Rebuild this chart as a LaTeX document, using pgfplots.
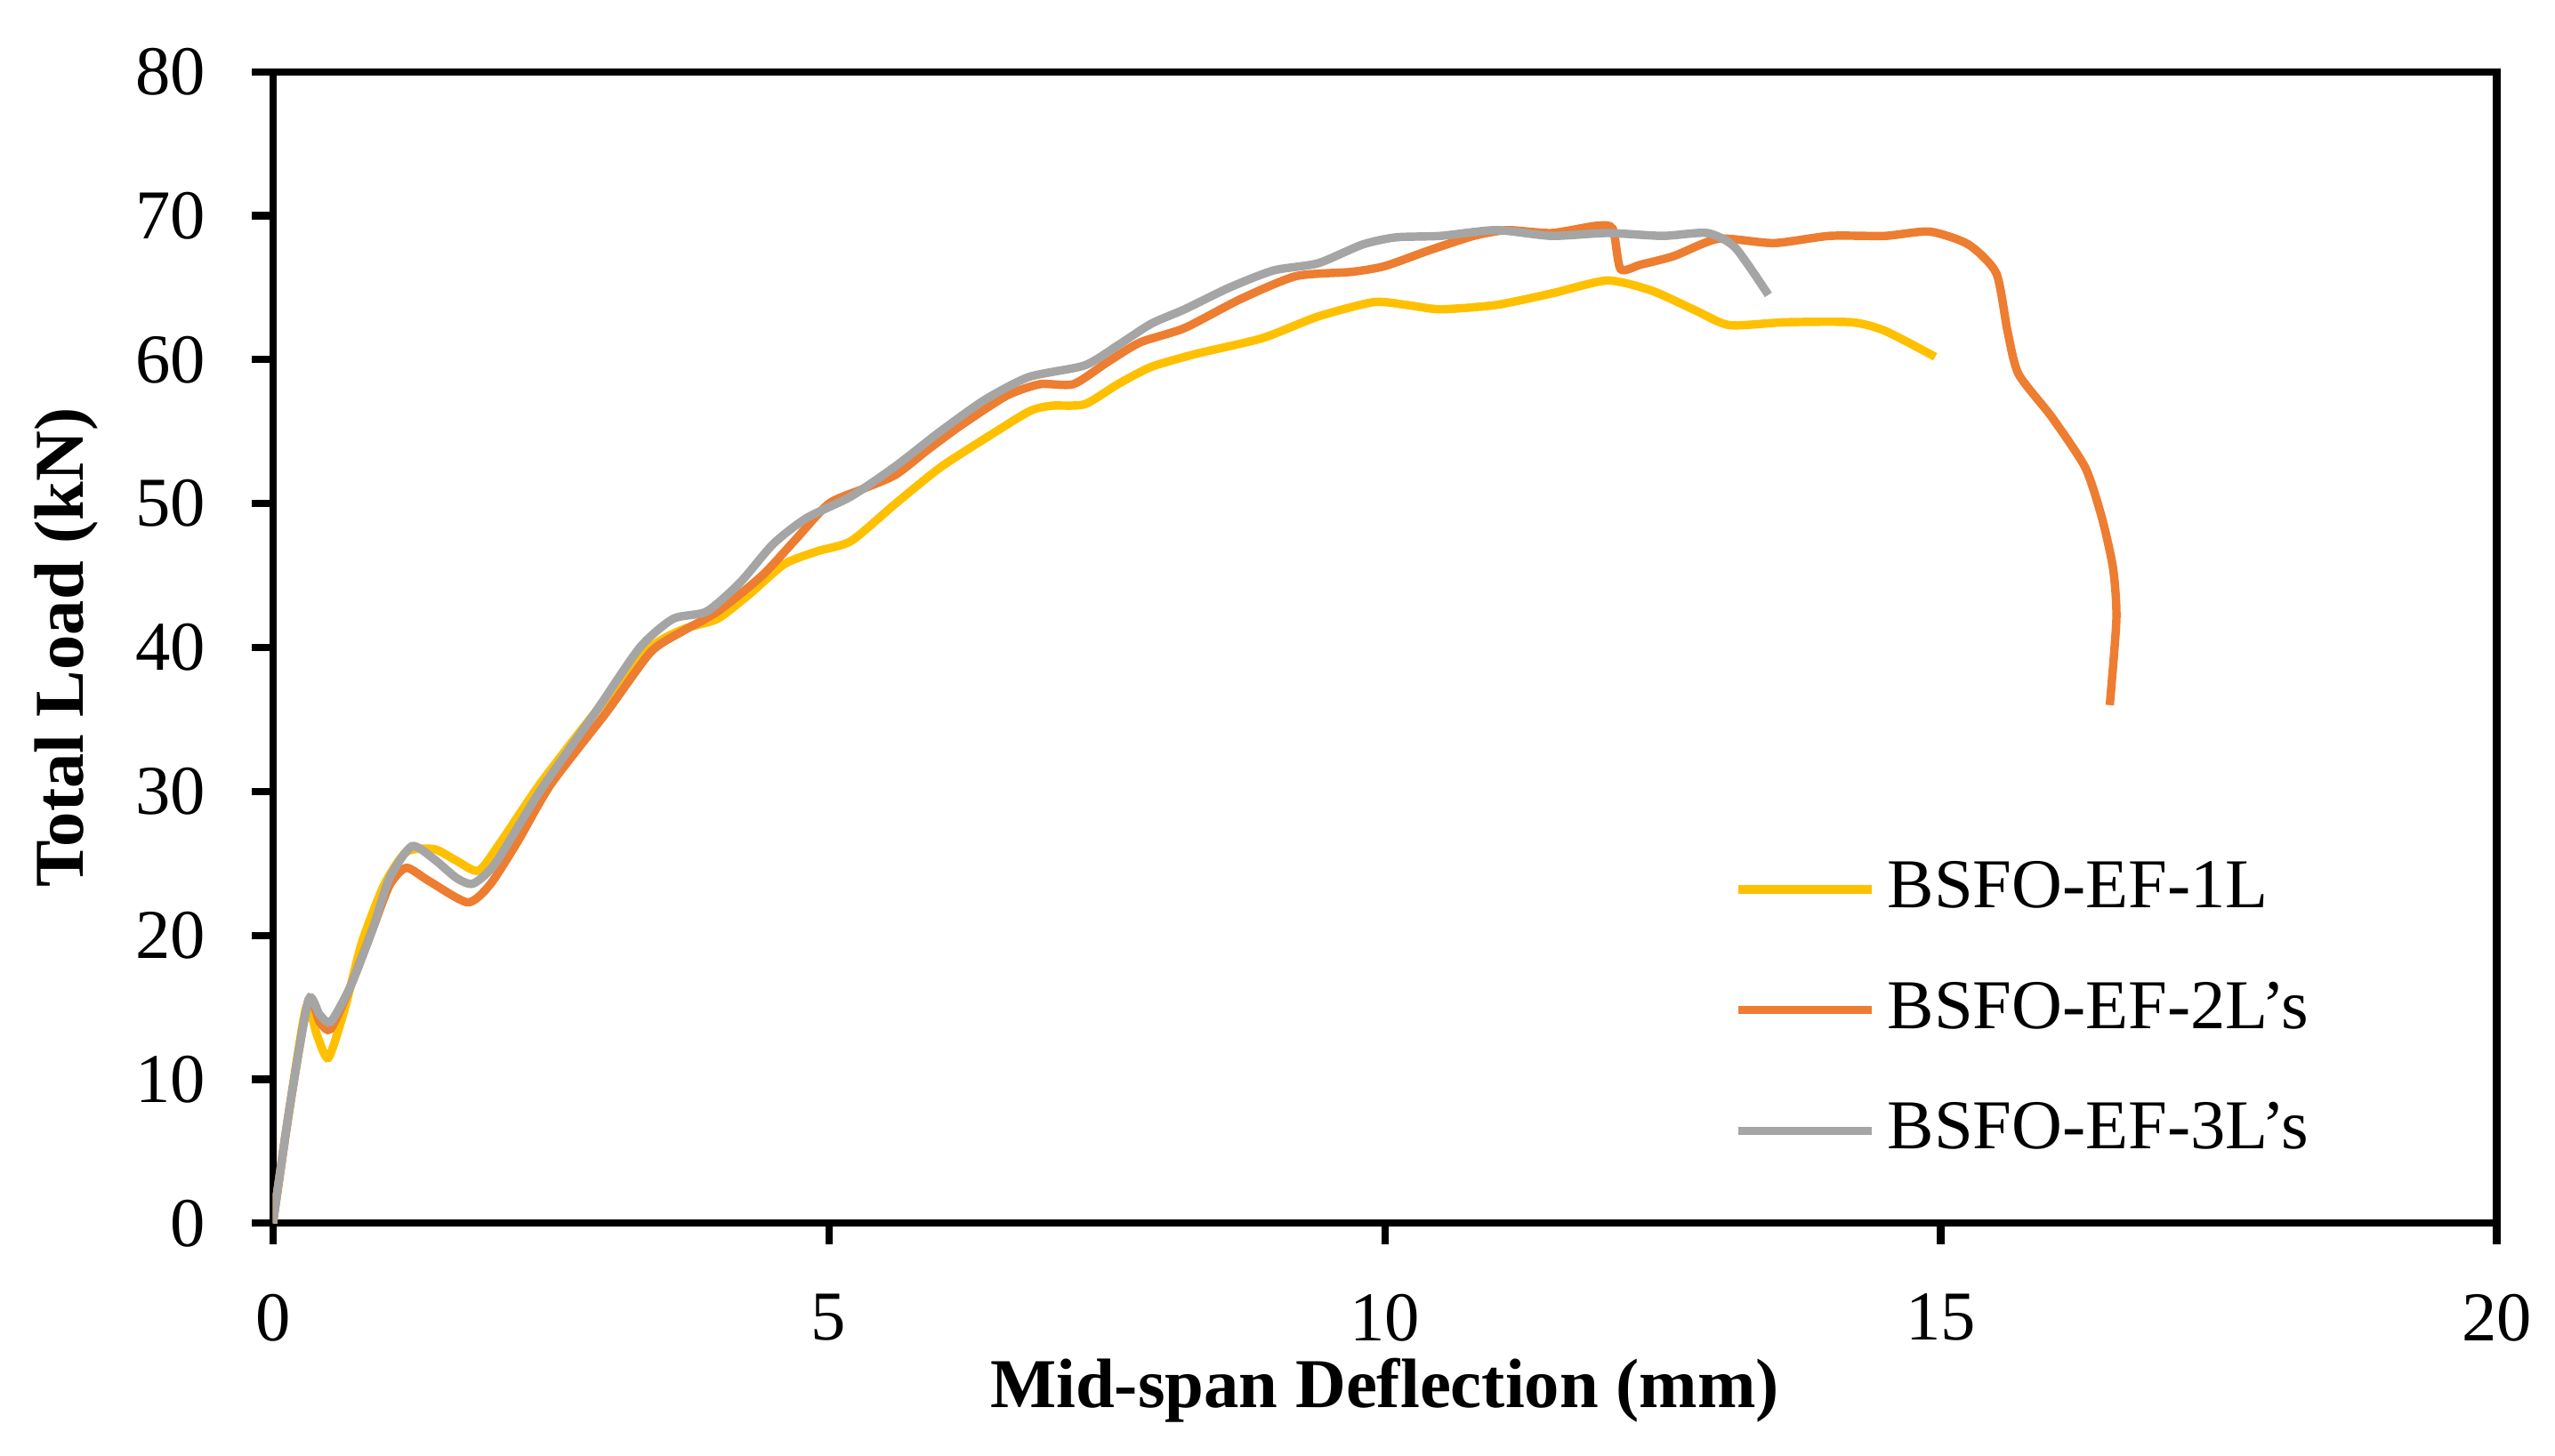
\documentclass[border=0pt]{standalone}
\usepackage{fontspec}
\setmainfont{Liberation Serif}
\usepackage{pgfplots}
\pgfplotsset{compat=1.18}

\definecolor{cYel}{HTML}{FFC000}
\definecolor{cOra}{HTML}{ED7D31}
\definecolor{cGry}{HTML}{A5A5A5}

\begin{document}
\fontsize{12.5}{15}\selectfont
\begin{tikzpicture}
\begin{axis}[
    scale only axis,
    width=13.96cm, height=7.23cm,
    xmin=0, xmax=20, ymin=0, ymax=80,
    xtick={0,5,10,15,20},
    ytick={0,10,20,30,40,50,60,70,80},
    /pgf/number format/assume math mode=true,
    axis line style={line width=1.3pt, black},
    tick style={line width=1.3pt, black},
    major tick length=0.13cm,
    tick align=outside,
    xtick pos=bottom, ytick pos=left,
    xticklabel style={yshift=-0.16cm},
    yticklabel style={xshift=-0.14cm},
    xlabel={\textbf{Mid-span Deflection (mm)}},
    ylabel={\textbf{Total Load (kN)}},
    xlabel style={at={(axis description cs:0.5,-0.145)}, anchor=center},
    ylabel style={at={(axis description cs:-0.093,0.5)}, anchor=center, rotate=0},
    legend style={at={(0.649,0.335)}, anchor=north west, draw=none, fill=none,
        row sep=0.26cm, font=\fontsize{12.5}{15}\selectfont},
    legend cell align=left,
    legend image code/.code={\draw[#1, line width=1.5pt] (0cm,0cm) -- (0.84cm,0cm);},
]
\addplot[cYel, line width=1.5pt, smooth, tension=0.4] coordinates {
(0,0) (0.15,8) (0.3,15) (0.4,13) (0.5,11.5) (0.65,15) (0.8,19.5) (1.0,23.5)
(1.2,25.8) (1.45,26) (1.65,25.2) (1.85,24.5) (2.05,26.5) (2.4,30.5) (2.9,35.5)
(3.4,40) (3.7,41.3) (4.0,42) (4.3,43.8) (4.6,45.8) (4.9,46.7) (5.2,47.4)
(5.6,50) (6.0,52.5) (6.4,54.5) (6.8,56.4) (7.0,56.8) (7.3,56.9) (7.6,58.3)
(7.9,59.5) (8.3,60.4) (8.9,61.5) (9.4,63) (9.9,64) (10.2,63.8) (10.5,63.5)
(11.0,63.8) (11.5,64.6) (12.0,65.5) (12.4,64.8) (12.8,63.4) (13.1,62.4)
(13.6,62.6) (14.2,62.6) (14.5,62) (14.95,60.2)
};
\addlegendentry{BSFO-EF-1L}
\addplot[cOra, line width=1.5pt, smooth, tension=0.4] coordinates {
(0,0) (0.15,8) (0.32,15.5) (0.42,14) (0.52,13.5) (0.7,16.5) (0.9,20.5)
(1.05,23.5) (1.2,24.7) (1.4,23.8) (1.75,22.3) (1.95,23.5) (2.2,26.5) (2.5,30.5)
(3.0,35.5) (3.4,39.7) (3.7,41.2) (4.0,42.5) (4.4,45) (4.7,47.5) (5.0,50)
(5.3,51) (5.6,52) (5.9,53.8) (6.2,55.5) (6.6,57.5) (6.9,58.3) (7.2,58.3)
(7.5,59.8) (7.8,61.2) (8.2,62.2) (8.7,64.2) (9.2,65.8) (9.7,66.1) (10.0,66.5)
(10.4,67.6) (10.8,68.6) (11.1,69) (11.5,68.8) (11.9,69.3) (12.05,69.1)
(12.12,66.3) (12.3,66.6) (12.6,67.2) (13.0,68.4) (13.5,68.1) (14.0,68.6)
(14.5,68.6) (14.9,68.9) (15.25,68) (15.5,66) (15.6,62) (15.7,59) (16.0,56)
(16.3,52.5) (16.45,49) (16.55,45.5) (16.58,42) (16.52,36)
};
\addlegendentry{BSFO-EF-2L's}
\addplot[cGry, line width=1.5pt, smooth, tension=0.4] coordinates {
(0,0) (0.15,8) (0.32,15.5) (0.42,14.5) (0.52,14) (0.7,16.5) (0.9,20.5)
(1.05,24) (1.25,26.2) (1.45,25.3) (1.65,24) (1.8,23.6) (2.0,25) (2.4,30)
(2.9,35.5) (3.3,40) (3.6,42) (3.9,42.5) (4.2,44.5) (4.5,47.2) (4.8,49)
(5.2,50.5) (5.6,52.6) (6.0,55) (6.4,57.2) (6.8,58.8) (7.3,59.6) (7.6,61)
(7.9,62.5) (8.2,63.5) (8.6,65) (9.0,66.2) (9.4,66.7) (9.8,68) (10.1,68.5)
(10.5,68.6) (11.0,69) (11.5,68.6) (12.0,68.8) (12.5,68.6) (12.9,68.8)
(13.15,67.8) (13.45,64.5)
};
\addlegendentry{BSFO-EF-3L's}
\end{axis}
\path ([xshift=-1.713cm,yshift=-1.456cm]current axis.south west)
    rectangle ([xshift=0.328cm,yshift=0.451cm]current axis.north east);
\end{tikzpicture}
\end{document}
